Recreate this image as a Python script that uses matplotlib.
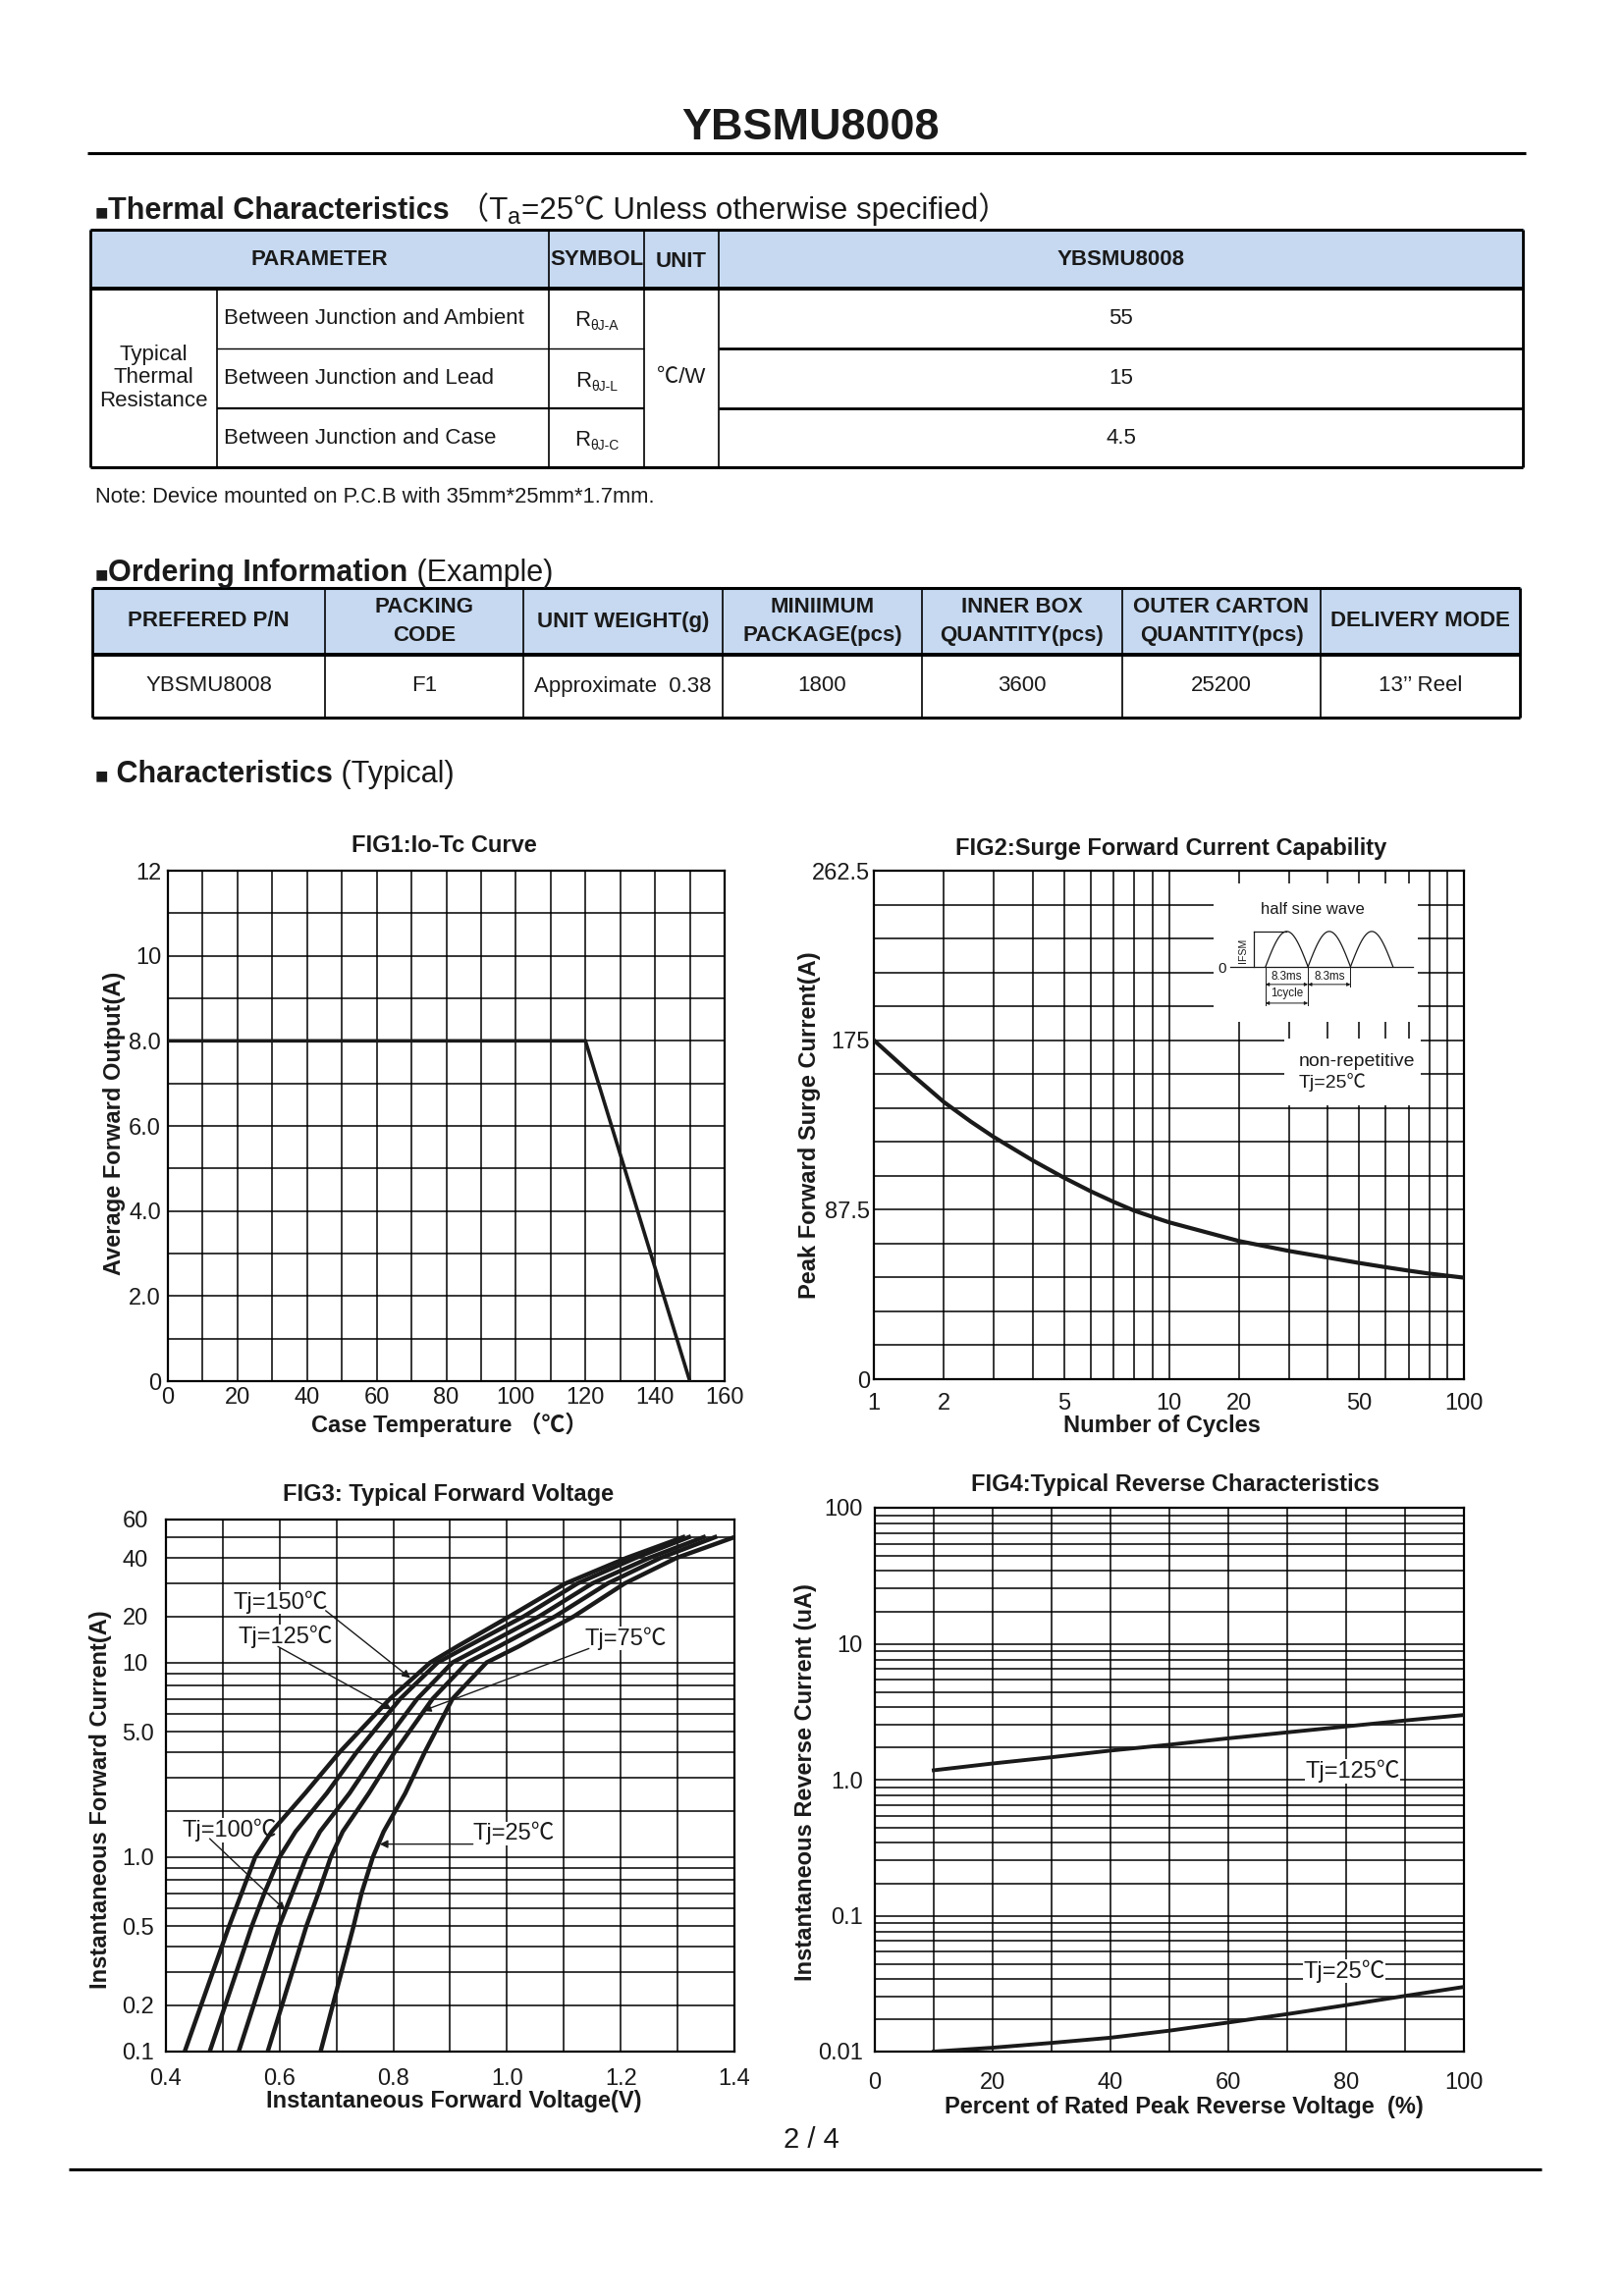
import numpy as np
import matplotlib
matplotlib.use('Agg')
import matplotlib.pyplot as plt
from matplotlib.patches import Rectangle
from matplotlib.ticker import NullFormatter

FAM = ['Liberation Sans', 'Noto Sans CJK SC', 'DejaVu Sans']
plt.rcParams['font.family'] = FAM
INK = '#1a1a1a'
HEAD_BLUE = '#C6D9F1'

# ---------------- data ----------------
part_no = 'YBSMU8008'

thermal_params = ['Between Junction and Ambient', 'Between Junction and Lead', 'Between Junction and Case']
thermal_syms = ['θJ-A', 'θJ-L', 'θJ-C']
thermal_vals = ['55', '15', '4.5']

order_heads = ['PREFERED P/N', 'PACKING\nCODE', 'UNIT WEIGHT(g)', 'MINIIMUM\nPACKAGE(pcs)',
               'INNER BOX\nQUANTITY(pcs)', 'OUTER CARTON\nQUANTITY(pcs)', 'DELIVERY MODE']
order_vals = ['YBSMU8008', 'F1', 'Approximate  0.38', '1800', '3600', '25200', '13’’ Reel']

# FIG1: Io - Tc
fig1_tc = [0, 120, 150]
fig1_io = [8.0, 8.0, 0.0]

# FIG2: surge current vs cycles
fig2_cycles = [1, 1.5, 2, 2.5, 3, 4, 5, 6, 7, 8, 9, 10, 20, 30, 40, 50, 60, 70, 80, 90, 100]
fig2_ifsm = [175, 157, 143, 133, 125, 113, 104, 97, 91.5, 87, 83.8, 81,
             71.3, 66.2, 62.8, 60.0, 57.8, 56.0, 54.5, 53.4, 52.4]

# FIG3: forward voltage curves (current levels shared)
fig3_if = [0.1, 0.5, 0.7, 1.0, 1.5, 2.5, 4, 7, 10, 13, 20, 30, 40, 50]
vf_150 = [0.433, 0.511, 0.533, 0.557, 0.586, 0.645, 0.705, 0.794, 0.865, 0.912, 1.005, 1.103, 1.210, 1.310]
vf_125 = [0.477, 0.551, 0.573, 0.600, 0.628, 0.683, 0.735, 0.812, 0.878, 0.930, 1.030, 1.124, 1.226, 1.320]
vf_100 = [0.528, 0.599, 0.622, 0.647, 0.671, 0.723, 0.771, 0.842, 0.904, 0.957, 1.057, 1.150, 1.250, 1.346]
vf_75 = [0.579, 0.647, 0.668, 0.690, 0.711, 0.757, 0.802, 0.869, 0.930, 0.985, 1.085, 1.177, 1.270, 1.366]
vf_25 = [0.672, 0.730, 0.744, 0.764, 0.783, 0.821, 0.855, 0.904, 0.964, 1.020, 1.118, 1.207, 1.298, 1.400]

# FIG4: reverse current
fig4_pct = [10, 20, 30, 40, 50, 60, 70, 80, 90, 100]
ir_125 = [1.25, 1.45, 1.65, 1.88, 2.1, 2.36, 2.62, 2.9, 3.2, 3.5]
ir_25 = [0.010, 0.0110, 0.0123, 0.0138, 0.0160, 0.0188, 0.0220, 0.0258, 0.0302, 0.035]


# the charts use a log-like ruling (decade split as log((m+1)/2)/log(5.5))
def qfwd(v):
    v = np.clip(np.asarray(v, dtype=float), 1e-6, None)
    d = np.floor(np.log10(v) + 1e-9)
    m = v / 10.0 ** d
    return d + np.log10((m + 1) / 2) / np.log10(5.5)


def qinv(y):
    y = np.asarray(y, dtype=float)
    d = np.floor(y + 1e-12)
    f = y - d
    return (2 * 5.5 ** f - 1) * 10.0 ** d


W, H = 1654, 2339
fig = plt.figure(figsize=(8.27, 11.695), dpi=200)
page = fig.add_axes([0, 0, 1, 1])
page.set_xlim(0, W)
page.set_ylim(H, 0)
page.axis('off')


def box(l, t, r, b):
    return [l / W, 1 - b / H, (r - l) / W, (b - t) / H]


def hline(y, x0, x1, lw):
    page.plot([x0, x1], [y, y], color='black', lw=lw, solid_capstyle='butt')


def vline(x, y0, y1, lw):
    page.plot([x, x], [y0, y1], color='black', lw=lw, solid_capstyle='butt')


renderer = fig.canvas.get_renderer()


def chain(x, y, parts, ha='left'):
    # lay text pieces one after another on a common baseline
    items = []
    cur = x
    for s, size, weight, dy in parts:
        t = page.text(cur, y + dy, s, fontsize=size, fontweight=weight,
                      ha='left', va='baseline', color=INK)
        cur += t.get_window_extent(renderer).width
        items.append(t)
    if ha == 'center':
        shift = (cur - x) / 2
        for t in items:
            px, py = t.get_position()
            t.set_position((px - shift, py))


# ---------------- page header ----------------
page.text(826, 130, part_no, fontsize=16.2, fontweight='bold', ha='center', va='center', color=INK)
hline(156, 89, 1554, 1.1)

chain(97, 223, [('■', 8, 'bold', 0), ('Thermal Characteristics', 11, 'bold', 0),
                (' （T', 11.3, 'normal', 0), ('a', 8.5, 'normal', 5),
                ('=25℃ Unless otherwise specified）', 11.3, 'normal', 0)])

# thermal table
tx = [92, 221, 559, 656, 732, 1551]
ty = [234, 294, 355, 416, 476]
page.add_patch(Rectangle((tx[0], ty[0]), tx[-1] - tx[0], ty[1] - ty[0], color=HEAD_BLUE, zorder=0))
hline(ty[0], tx[0], tx[-1], 1.1)
hline(ty[1], tx[0], tx[-1], 1.4)
hline(ty[4], tx[0], tx[-1], 1.1)
hline(ty[2], tx[1], tx[3], 0.5)
hline(ty[3], tx[1], tx[3], 0.8)
hline(ty[2], tx[4], tx[5], 1.0)
hline(ty[3], tx[4], tx[5], 1.0)
vline(tx[0], ty[0], ty[4], 1.0)
vline(tx[1], ty[1], ty[4], 0.6)
for x in tx[2:5]:
    vline(x, ty[0], ty[4], 0.6)
vline(tx[5], ty[0], ty[4], 1.0)

hy = (ty[0] + ty[1]) / 2
page.text((tx[0] + tx[2]) / 2, hy, 'PARAMETER', fontsize=8, fontweight='bold', ha='center', va='center', color=INK)
page.text((tx[2] + tx[3]) / 2, hy, 'SYMBOL', fontsize=8, fontweight='bold', ha='center', va='center', color=INK)
page.text((tx[3] + tx[4]) / 2, hy + 3, 'UNIT', fontsize=8, fontweight='bold', ha='center', va='center', color=INK)
page.text((tx[4] + tx[5]) / 2, hy, part_no, fontsize=8, fontweight='bold', ha='center', va='center', color=INK)

page.text((tx[0] + tx[1]) / 2, (ty[1] + ty[4]) / 2, 'Typical\nThermal\nResistance', fontsize=8,
          ha='center', va='center', linespacing=1.15, color=INK)
page.text((tx[3] + tx[4]) / 2, (ty[1] + ty[4]) / 2, '℃/W', fontsize=8, ha='center', va='center', color=INK)
for i in range(3):
    cy = (ty[i + 1] + ty[i + 2]) / 2
    page.text(tx[1] + 7, cy, thermal_params[i], fontsize=8, ha='left', va='center', color=INK)
    chain((tx[2] + tx[3]) / 2, cy + 8, [('R', 8, 'normal', 0), (thermal_syms[i], 5, 'normal', 4)], ha='center')
    page.text((tx[4] + tx[5]) / 2, cy, thermal_vals[i], fontsize=8, ha='center', va='center', color=INK)

page.text(97, 507, 'Note: Device mounted on P.C.B with 35mm*25mm*1.7mm.', fontsize=7.9,
          ha='left', va='center', color=INK)

# ordering table
chain(97, 592, [('■', 8, 'bold', 0), ('Ordering Information', 11, 'bold', 0), (' (Example)', 11, 'normal', 0)])
ox = [94, 331, 533, 736, 939, 1143, 1345, 1548]
oy = [599, 667, 731]
page.add_patch(Rectangle((ox[0], oy[0]), ox[-1] - ox[0], oy[1] - oy[0], color=HEAD_BLUE, zorder=0))
hline(oy[0], ox[0], ox[-1], 1.1)
hline(oy[1], ox[0], ox[-1], 1.4)
hline(oy[2], ox[0], ox[-1], 1.1)
vline(ox[0], oy[0], oy[2], 1.0)
vline(ox[-1], oy[0], oy[2], 1.0)
for x in ox[1:-1]:
    vline(x, oy[0], oy[2], 0.6)
for i in range(7):
    cx = (ox[i] + ox[i + 1]) / 2
    page.text(cx, (oy[0] + oy[1]) / 2, order_heads[i], fontsize=8, fontweight='bold', ha='center',
              va='center', linespacing=1.45, color=INK)
    page.text(cx, (oy[1] + oy[2]) / 2, order_vals[i], fontsize=8, ha='center', va='center', color=INK)

chain(97, 797, [('■', 8, 'bold', 0), (' Characteristics', 11, 'bold', 0), (' (Typical)', 11, 'normal', 0)])

# footer
page.text(826, 2180, '2 / 4', fontsize=10.5, ha='center', va='center', color=INK)
hline(2210, 70, 1570, 1.1)


def style(ax, xpad, ypad):
    ax.grid(which='both', color='black', lw=0.55)
    ax.tick_params(which='both', length=0, labelsize=8.5, colors=INK)
    ax.tick_params(axis='x', pad=xpad)
    ax.tick_params(axis='y', pad=ypad)
    for s in ax.spines.values():
        s.set_linewidth(0.8)
        s.set_color('black')
    ax.xaxis.set_minor_formatter(NullFormatter())
    ax.yaxis.set_minor_formatter(NullFormatter())


def label(x, y, s, rot=0):
    page.text(x, y, s, fontsize=8.5, fontweight='bold', ha='center', va='center', rotation=rot, color=INK)


# ---------------- FIG1 ----------------
ax1 = fig.add_axes(box(171, 887, 738, 1407))
ax1.plot(fig1_tc, fig1_io, color=INK, lw=1.3, solid_joinstyle='miter', zorder=3)
ax1.set_xlim(0, 160)
ax1.set_ylim(0, 12)
ax1.set_xticks(range(0, 161, 20))
ax1.set_xticks(range(0, 161, 10), minor=True)
ax1.set_yticks([0, 2, 4, 6, 8, 10, 12], labels=['0', '2.0', '4.0', '6.0', '8.0', '10', '12'])
ax1.set_yticks(range(0, 13), minor=True)
style(ax1, 2, 2.5)
label(452, 861, 'FIG1:Io-Tc Curve')
label(458, 1451, 'Case Temperature （℃）')
label(117, 1144, 'Average Forward Output(A)', 90)

# ---------------- FIG2 ----------------
ax2 = fig.add_axes(box(890, 887, 1491, 1405))
ax2.set_xscale('function', functions=(qfwd, qinv))
ax2.plot(fig2_cycles, fig2_ifsm, color=INK, lw=1.5, zorder=3)
ax2.set_xlim(1, 100)
ax2.set_ylim(0, 262.5)
ax2.set_xticks([1, 2, 5, 10, 20, 50, 100], labels=['1', '2', '5', '10', '20', '50', '100'])
ax2.set_xticks([1, 2, 3, 4, 5, 6, 7, 8, 9, 10, 20, 30, 40, 50, 60, 70, 80, 90, 100], minor=True)
ax2.set_yticks([0, 87.5, 175, 262.5], labels=['0', '87.5', '175', '262.5'])
ax2.set_yticks(np.arange(0, 262.6, 17.5), minor=True)
style(ax2, 5, 1.5)
ax2.add_patch(Rectangle((0.695, 0.539), 0.232, 0.13, transform=ax2.transAxes,
                        facecolor='white', edgecolor='none', zorder=1.8))
ax2.text(0.72, 0.603, 'non-repetitive\nTj=25℃', transform=ax2.transAxes, fontsize=7,
         ha='left', va='center', linespacing=1.2, color=INK, zorder=3)

# half sine wave sketch (time axis in ms)
ins = ax2.inset_axes([0.576, 0.703, 0.346, 0.272])
ins.set_facecolor('white')
ins.set_xticks([])
ins.set_yticks([])
for s in ins.spines.values():
    s.set_visible(False)
ins.set_xlim(-10.11, 29.77)
ins.set_ylim(-1.556, 2.36)
half = 8.3
for k in range(3):
    t = np.linspace(0, half, 60)
    ins.plot(t + k * half, np.sin(np.pi * t / half), color=INK, lw=0.45)
ins.plot([-6.9, 28.8], [0, 0], color=INK, lw=0.45)
ins.plot([-2.29, -2.29], [0, 1], color=INK, lw=0.45)
ins.plot([-2.29, 4.0], [1, 1], color=INK, lw=0.45)
ins.text(-4.3, 0.47, 'IFSM', fontsize=3.8, rotation=90, ha='center', va='center', color=INK)
ins.text(-8.4, -0.05, '0', fontsize=5.5, ha='center', va='center', color=INK)
for x0, y1 in [(0, -1.1), (half, -1.1), (2 * half, -0.56)]:
    ins.plot([x0, x0], [0, y1], color=INK, lw=0.35)
arr = dict(arrowstyle='<|-|>', color=INK, lw=0.35, mutation_scale=2.5, shrinkA=0, shrinkB=0)
ins.annotate('', xy=(0, -0.5), xytext=(half, -0.5), arrowprops=arr)
ins.annotate('', xy=(half, -0.5), xytext=(2 * half, -0.5), arrowprops=arr)
ins.annotate('', xy=(0, -1.03), xytext=(half, -1.03), arrowprops=arr)
ins.text(half / 2, -0.27, '8.3ms', fontsize=4.2, ha='center', va='center', color=INK)
ins.text(1.5 * half, -0.27, '8.3ms', fontsize=4.2, ha='center', va='center', color=INK)
ins.text(half / 2, -0.76, '1cycle', fontsize=4.2, ha='center', va='center', color=INK)
ins.text(9.2, 1.63, 'half sine wave', fontsize=6, ha='center', va='center', color=INK)

label(1193, 864, 'FIG2:Surge Forward Current Capability')
label(1183, 1452, 'Number of Cycles')
label(824, 1146, 'Peak Forward Surge Current(A)', 90)

# ---------------- FIG3 ----------------
ax3 = fig.add_axes(box(169, 1548, 748, 2090))
ax3.set_yscale('function', functions=(qfwd, qinv))
for vf in [vf_150, vf_125, vf_100, vf_75, vf_25]:
    ax3.plot(vf, fig3_if, color=INK, lw=1.6, zorder=3, solid_joinstyle='round')
ax3.set_xlim(0.4, 1.4)
ax3.set_ylim(0.1, 60)
ax3.set_xticks([0.4, 0.6, 0.8, 1.0, 1.2, 1.4], labels=['0.4', '0.6', '0.8', '1.0', '1.2', '1.4'])
ax3.set_xticks(np.arange(0.4, 1.41, 0.1), minor=True)
ax3.set_yticks([0.1, 0.2, 0.5, 1, 5, 10, 20, 40, 60],
               labels=['0.1', '0.2', '0.5', '1.0', '5.0', '10', '20', '40', '60'])
ax3.set_yticks([0.1, 0.2, 0.3, 0.4, 0.5, 0.6, 0.7, 0.8, 0.9, 1, 2, 3, 4, 5, 6, 7, 8, 9,
                10, 20, 30, 40, 50, 60], minor=True)
style(ax3, 6, 16)
for lab in ax3.get_yticklabels():
    lab.set_horizontalalignment('left')

lead = dict(arrowstyle='-|>', color=INK, lw=0.5, mutation_scale=6, shrinkA=0, shrinkB=0)
white = dict(facecolor='white', edgecolor='none', pad=0.2)
fig3_notes = [
    ('Tj=150℃', (0.519, 23.9), (0.681, 21.5), (0.830, 8.6)),
    ('Tj=125℃', (0.527, 15.1), (0.597, 13.0), (0.797, 6.3)),
    ('Tj=75℃', (1.136, 14.7), (1.144, 12.6), (0.852, 6.2)),
    ('Tj=100℃', (0.4285, 1.53), (0.477, 1.35), (0.610, 0.59)),
    ('Tj=25℃', (0.94, 1.46), (0.94, 1.24), (0.776, 1.24)),
]
for txt, tpos, start, tip in fig3_notes:
    # white box hides the ruling, the curves stay on top
    ax3.text(tpos[0], tpos[1], txt, fontsize=8.5, ha='left', va='center', color=INK, zorder=2.5, bbox=white)
    ax3.annotate('', xy=tip, xytext=start, arrowprops=lead, zorder=4)

label(457, 1523, 'FIG3: Typical Forward Voltage')
label(462, 2141, 'Instantaneous Forward Voltage(V)')
label(103, 1833, 'Instantaneous Forward Current(A)', 90)

# ---------------- FIG4 ----------------
ax4 = fig.add_axes(box(891, 1536, 1491, 2090))
ax4.set_yscale('function', functions=(qfwd, qinv))
ax4.plot(fig4_pct, ir_125, color=INK, lw=1.4, zorder=3)
ax4.plot(fig4_pct, ir_25, color=INK, lw=1.4, zorder=3)
ax4.set_xlim(0, 100)
ax4.set_ylim(0.01, 100)
ax4.set_xticks(range(0, 101, 20))
ax4.set_xticks(range(0, 101, 10), minor=True)
ax4.set_yticks([0.01, 0.1, 1, 10, 100], labels=['0.01', '0.1', '1.0', '10', '100'])
ax4.set_yticks([m * 10.0 ** e for e in range(-2, 2) for m in range(1, 10)] + [100], minor=True)
style(ax4, 7.6, 4.5)
ax4.text(73, 1.22, 'Tj=125℃', fontsize=8.5, ha='left', va='center', color=INK, zorder=2.5, bbox=white)
ax4.text(72.7, 0.045, 'Tj=25℃', fontsize=8.5, ha='left', va='center', color=INK, zorder=2.5, bbox=white)

label(1197, 1513, 'FIG4:Typical Reverse Characteristics')
label(1206, 2147, 'Percent of Rated Peak Reverse Voltage  (%)')
label(820, 1816, 'Instantaneous Reverse Current (uA)', 90)

fig.savefig('out.png', dpi=200, facecolor='white')
